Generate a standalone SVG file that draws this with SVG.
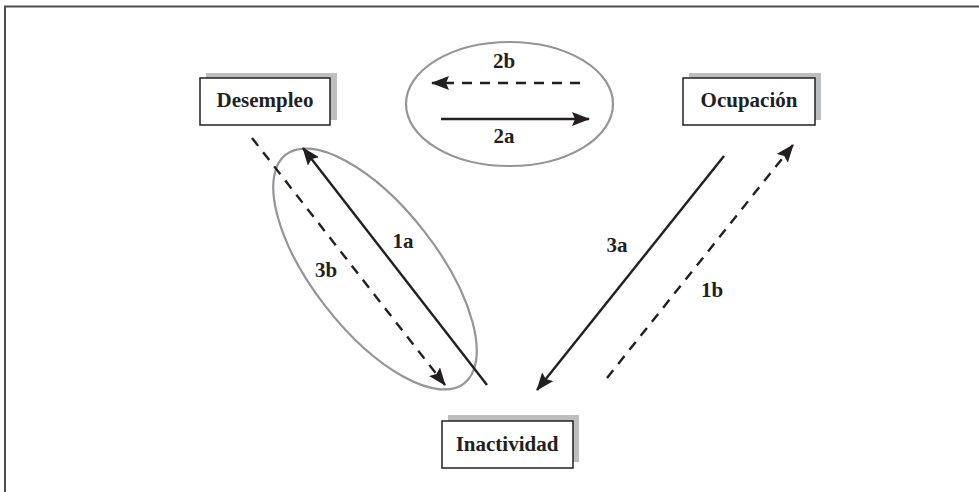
<svg xmlns="http://www.w3.org/2000/svg" width="979" height="492" viewBox="0 0 979 492">
<defs>
<style>
.frame{stroke:#4d4d4d;stroke-width:2;fill:none}
.shadow{fill:#bcbec0}
.box{fill:#fff;stroke:#231f20;stroke-width:1.5}
.lbl{font-family:"Liberation Serif","Times New Roman",serif;font-weight:bold;font-size:21px;fill:#231f20;text-anchor:middle}
.ell{fill:none;stroke:#939598;stroke-width:2.2}
.solid{stroke:#231f20;stroke-width:2.4;fill:none}
.dash{stroke:#231f20;stroke-width:2.4;fill:none;stroke-dasharray:10 8}
</style>
<marker id="ah" viewBox="0 0 18 14" refX="17" refY="7" markerWidth="18" markerHeight="14" markerUnits="userSpaceOnUse" orient="auto-start-reverse">
<path d="M0,0 L18,7 L0,14 L3,7 z" fill="#231f20"/>
</marker>
</defs>
<rect width="979" height="492" fill="#fff"/>
<path class="frame" d="M5,492 V6.5 H979"/>

<g id="desempleo">
<rect class="shadow" x="206" y="73" width="131" height="47"/>
<rect class="box" x="200" y="78" width="130" height="47"/>
<text class="lbl" x="265" y="107">Desempleo</text>
</g>
<g id="ocupacion">
<rect class="shadow" x="689" y="73" width="132" height="47"/>
<rect class="box" x="683" y="78" width="132" height="47"/>
<text class="lbl" x="749" y="107">Ocupación</text>
</g>
<g id="inactividad">
<rect class="shadow" x="448" y="415" width="131" height="47"/>
<rect class="box" x="442" y="421" width="131" height="47"/>
<text class="lbl" x="507" y="451">Inactividad</text>
</g>

<g id="groups">
<ellipse class="ell" cx="509.5" cy="104" rx="103.5" ry="62"/>
<ellipse class="ell" cx="375" cy="269" rx="145" ry="62" transform="rotate(52 375 269)"/>
</g>

<g id="connectors">
<line class="dash" x1="580" y1="83" x2="432" y2="83" marker-end="url(#ah)"/>
<line class="solid" x1="441" y1="119" x2="589" y2="119" marker-end="url(#ah)"/>
<line class="solid" x1="487" y1="385" x2="303" y2="148" marker-end="url(#ah)"/>
<line class="dash" x1="252" y1="138" x2="445" y2="385" marker-end="url(#ah)"/>
<line class="solid" x1="724" y1="156" x2="537" y2="390" marker-end="url(#ah)"/>
<line class="dash" x1="607" y1="378" x2="793" y2="145" marker-end="url(#ah)"/>
</g>

<g id="labels">
<text class="lbl" x="504" y="68">2b</text>
<text class="lbl" x="504" y="143">2a</text>
<text class="lbl" x="403" y="248">1a</text>
<text class="lbl" x="326" y="277">3b</text>
<text class="lbl" x="617" y="252">3a</text>
<text class="lbl" x="712" y="297">1b</text>
</g>
</svg>
